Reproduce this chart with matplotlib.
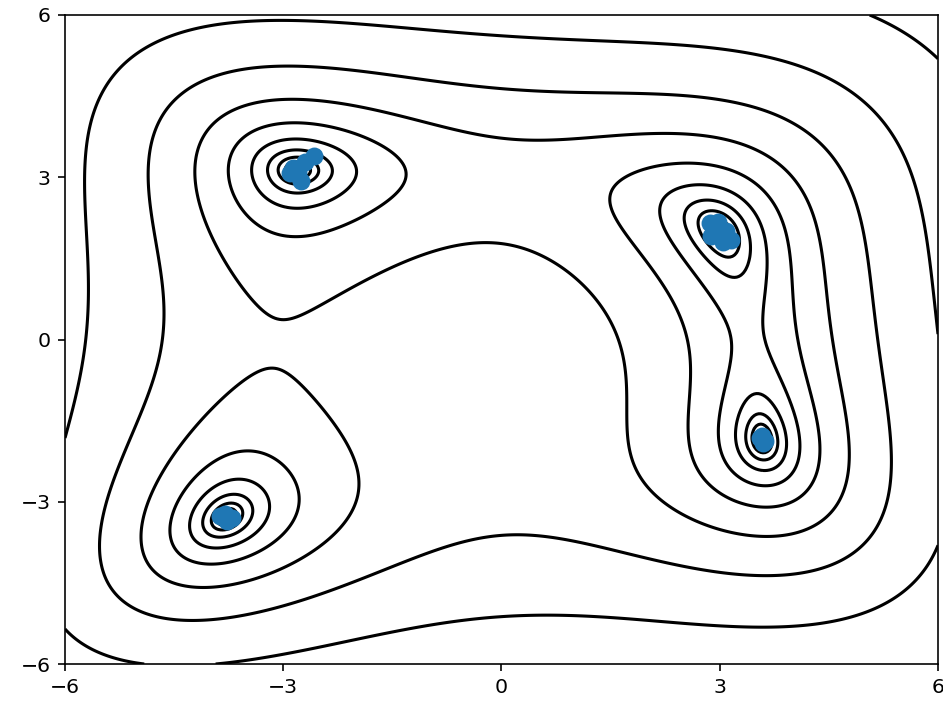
import numpy as np
import matplotlib
matplotlib.use("Agg")
import matplotlib.pyplot as plt

# Contour levels (log-spaced) of the Himmelblau function
level_exponents = [0, 0.4, 0.8, 1.2, 1.6, 2.0, 2.4, 2.8, 3.2, 3.6, 4.0]

# Scatter points (final iterates clustered near the four minima)
pts_x = [-2.58, -2.70, -2.86, -2.91, -2.75, -2.80,
         2.87, 2.93, 2.88, 3.00, 3.08, 3.15, 3.05, 2.98,
         3.55, 3.62, 3.58, 3.59,
         -3.87, -3.70, -3.78, -3.80]
pts_y = [3.39, 3.29, 3.17, 3.08, 2.93, 3.10,
         2.15, 2.05, 1.92, 1.95, 2.00, 1.84, 1.80, 2.17,
         -1.82, -1.88, -1.78, -1.92,
         -3.26, -3.30, -3.36, -3.23]

tick_vals = [-6, -3, 0, 3, 6]

dpi = 147.3
fig = plt.figure(figsize=(943 / dpi, 706 / dpi), dpi=dpi)
ax = fig.add_axes([65 / 943, 42 / 706, 873 / 943, 649 / 706])

x = np.linspace(-6, 6, 400)
y = np.linspace(-6, 6, 400)
X, Y = np.meshgrid(x, y)
Z = (X**2 + Y - 11) ** 2 + (X + Y**2 - 7) ** 2
levels = [10 ** e for e in level_exponents]
ax.contour(X, Y, Z, levels=levels, colors="k", linewidths=1.5)

ax.scatter(pts_x, pts_y, s=60, color="#1f77b4", zorder=3)

ax.set_xlim(-6, 6)
ax.set_ylim(-6, 6)
ax.set_xticks(tick_vals)
ax.set_yticks(tick_vals)

fig.savefig("out.png", dpi=dpi)
